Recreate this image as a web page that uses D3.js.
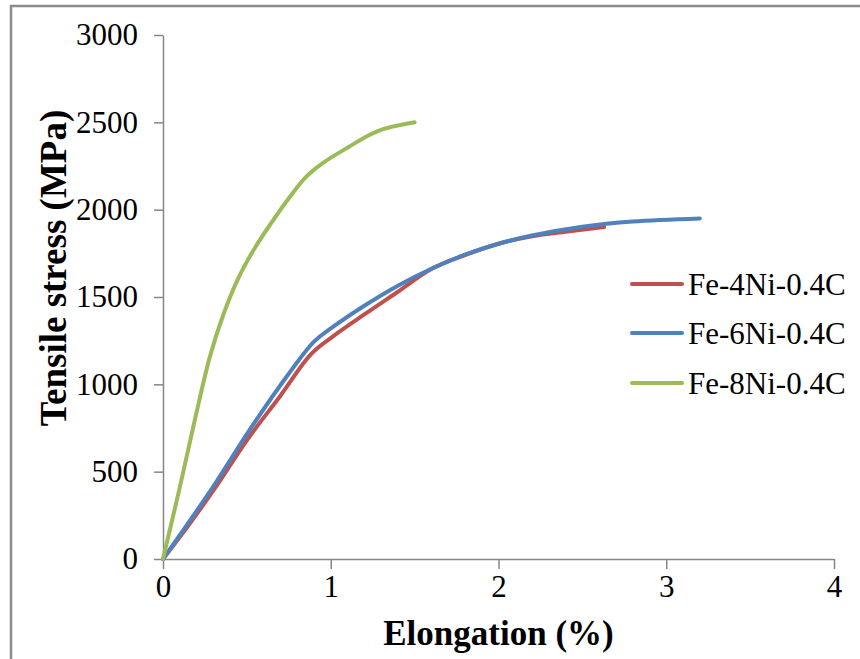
<!DOCTYPE html>
<html>
<head>
<meta charset="utf-8">
<script src="https://cdn.jsdelivr.net/npm/d3@7"></script>
<style>
  html, body { margin: 0; padding: 0; background: #fff; }
  svg { display: block; }
  svg text { font-family: "Liberation Serif", Tinos, "Times New Roman", Times, "DejaVu Serif", serif; fill: #000; }
</style>
</head>
<body>
<svg id="chart" width="860" height="659"></svg>
<script>
// Tensile stress–elongation curves for Fe-xNi-0.4C steels
const seriesNames = ["Fe-4Ni-0.4C", "Fe-6Ni-0.4C", "Fe-8Ni-0.4C"];
const seriesColors = ["#C0504D", "#4F81BD", "#9BBB59"];

// [elongation %, stress MPa]
const fe4Ni = [[0,0],[0.15,190],[0.32,420],[0.5,680],[0.7,935],[0.88,1170],[1.0,1265],[1.2,1400],[1.4,1530],[1.6,1660],[1.8,1740],[2.0,1805],[2.2,1848],[2.4,1874],[2.63,1900]];
const fe6Ni = [[0,0],[0.15,205],[0.32,445],[0.5,715],[0.7,995],[0.9,1245],[1.0,1320],[1.2,1450],[1.4,1565],[1.6,1662],[1.8,1742],[2.0,1805],[2.2,1852],[2.5,1902],[2.8,1932],[3.2,1950]];
const fe8Ni = [[0,0],[0.1,410],[0.2,840],[0.28,1160],[0.36,1400],[0.45,1610],[0.55,1785],[0.65,1930],[0.75,2065],[0.85,2185],[0.95,2265],[1.1,2355],[1.28,2450],[1.5,2500]];
const seriesData = [fe4Ni, fe6Ni, fe8Ni];

const xTicks = [0, 1, 2, 3, 4];
const yTicks = [0, 500, 1000, 1500, 2000, 2500, 3000];

const svg = d3.select("#chart");
const plotLeft = 163, plotRight = 834, plotTop = 35, plotBottom = 559;
const serif = '"Liberation Serif", Tinos, "Times New Roman", Times, "DejaVu Serif", serif';

// outer frame
svg.append("rect")
  .attr("x", 11).attr("y", 6)
  .attr("width", 900).attr("height", 700)
  .attr("fill", "none").attr("stroke", "#8c8c8c").attr("stroke-width", 2.5);

const x = d3.scaleLinear().domain([0, 4]).range([plotLeft, plotRight]);
const y = d3.scaleLinear().domain([0, 3000]).range([plotBottom, plotTop]);

const axisColor = "#868686";

const xAxis = svg.append("g")
  .attr("transform", `translate(0,${plotBottom})`)
  .call(d3.axisBottom(x).tickValues(xTicks).tickSize(10).tickSizeOuter(0).tickPadding(6).tickFormat(d3.format("d")));
const yAxis = svg.append("g")
  .attr("transform", `translate(${plotLeft},0)`)
  .call(d3.axisLeft(y).tickValues(yTicks).tickSize(9).tickSizeOuter(0).tickPadding(16).tickFormat(d3.format("d")));

[xAxis, yAxis].forEach(g => {
  g.attr("font-family", serif).attr("font-size", 31);
  g.select(".domain").attr("stroke", axisColor).attr("stroke-width", 1.5);
  g.selectAll(".tick line").attr("stroke", axisColor).attr("stroke-width", 1.5);
  g.selectAll(".tick text")
    .style("font-family", serif)
    .style("font-size", "31px").attr("fill", "#000");
});
xAxis.selectAll(".tick text").attr("dy", "0.72em");

// curves
const line = d3.line()
  .x(d => x(d[0])).y(d => y(d[1]))
  .curve(d3.curveCatmullRom.alpha(0.5));

svg.append("g").selectAll("path")
  .data(seriesData)
  .join("path")
  .attr("d", line)
  .attr("fill", "none")
  .attr("stroke", (d, i) => seriesColors[i])
  .attr("stroke-width", 4)
  .attr("stroke-linecap", "round")
  .attr("stroke-linejoin", "round");

// legend
const legend = svg.append("g");
const legendY = [284, 333, 383];
seriesNames.forEach((name, i) => {
  legend.append("line")
    .attr("x1", 632).attr("x2", 682)
    .attr("y1", legendY[i]).attr("y2", legendY[i])
    .attr("stroke", seriesColors[i]).attr("stroke-width", 4)
    .attr("stroke-linecap", "round");
  legend.append("text")
    .attr("x", 688).attr("y", legendY[i])
    .attr("dy", "0.35em")
    .style("font-family", serif)
    .style("font-size", "31px")
    .text(name);
});

// axis titles
svg.append("text")
  .attr("x", (plotLeft + plotRight) / 2).attr("y", 645)
  .attr("text-anchor", "middle")
  .style("font-family", serif)
  .style("font-size", "35px").style("font-weight", "bold")
  .text("Elongation (%)");

svg.append("text")
  .attr("transform", `translate(66,268) rotate(-90)`)
  .attr("text-anchor", "middle")
  .style("font-family", serif)
  .style("font-size", "37px").style("font-weight", "bold")
  .text("Tensile stress (MPa)");
</script>
</body>
</html>
